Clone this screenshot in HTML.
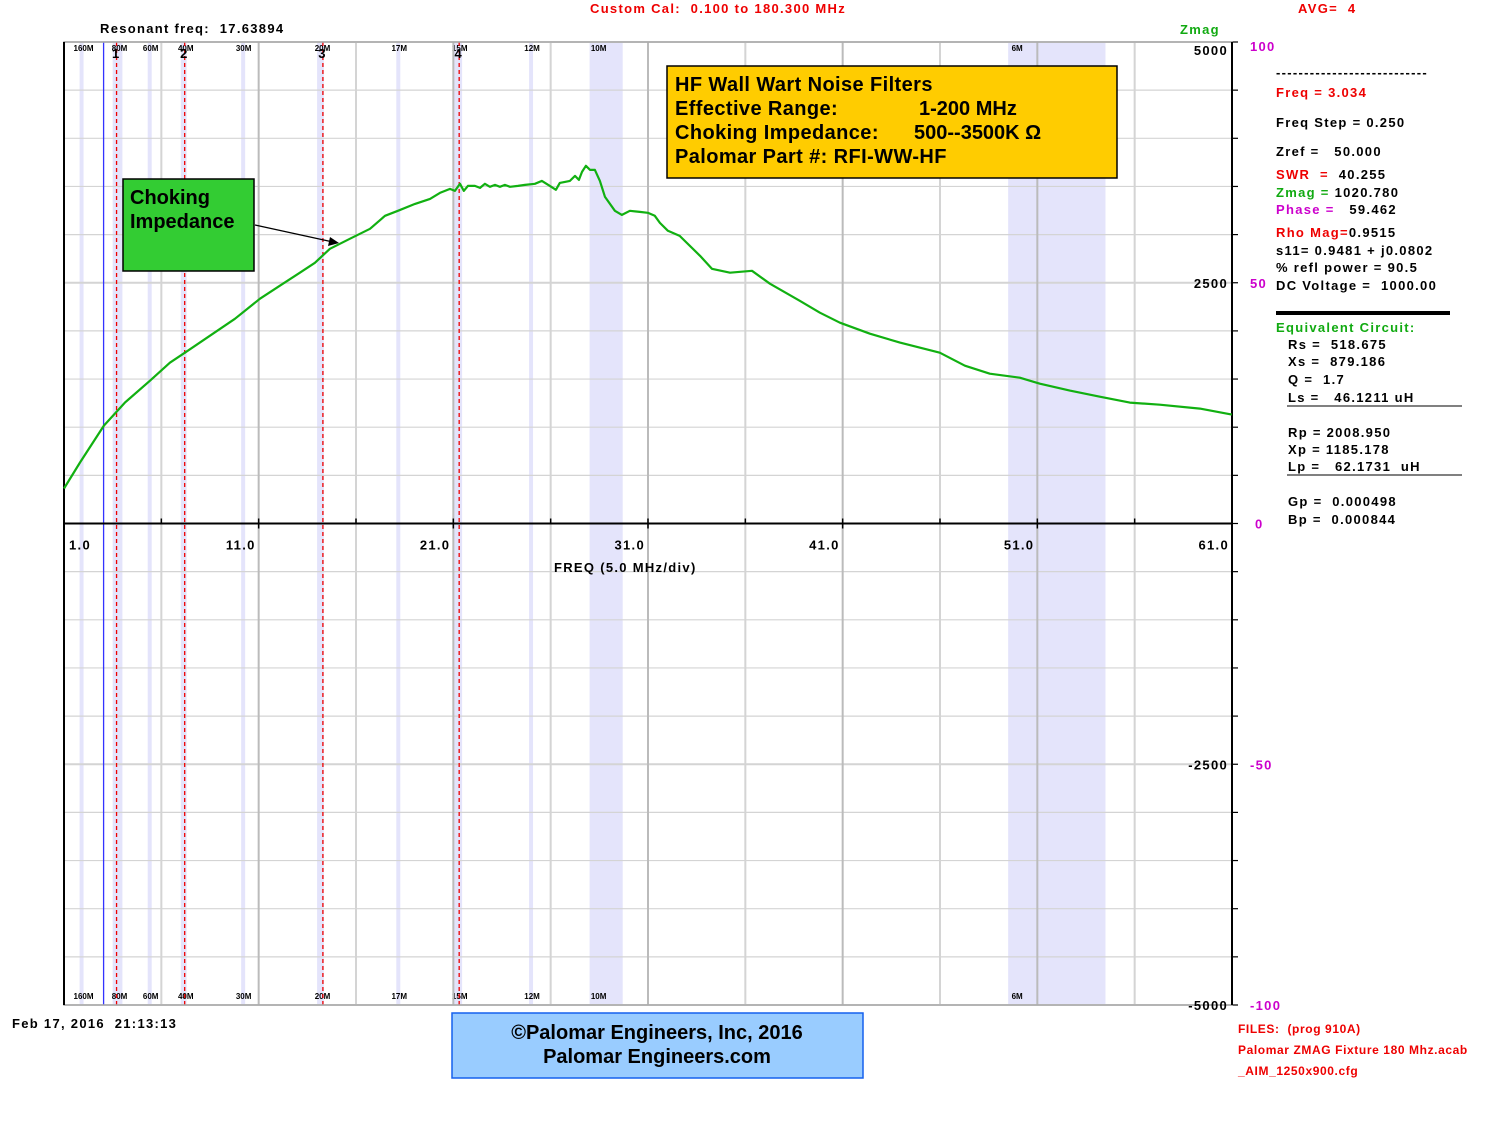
<!DOCTYPE html>
<html><head><meta charset="utf-8"><style>
body{margin:0;background:#fff;}
svg{display:block;font-family:"Liberation Sans",Arial,sans-serif;font-weight:bold;}
text{white-space:pre;}
.sp{letter-spacing:1.3px;}
</style></head><body>
<svg id="chart" width="1485" height="1147" viewBox="0 0 1485 1147" xmlns="http://www.w3.org/2000/svg" xml:space="preserve">
<g id="bands"></g>
<g id="grid"></g>
<g id="markers"></g>
<g id="axes"></g>
<g id="series"></g>

<text class="sp" x="100" y="33" font-size="13">Resonant freq:  17.63894</text>
<text class="sp" x="590" y="13" font-size="13" fill="#e00">Custom Cal:  0.100 to 180.300 MHz</text>
<text class="sp" x="1298" y="13" font-size="13" fill="#e00">AVG=  4</text>
<text class="sp" x="1180" y="34" font-size="13" fill="#1a1">Zmag</text>
<text class="sp" x="554" y="572" font-size="13">FREQ (5.0 MHz/div)</text>

<g>
<rect x="667" y="66" width="450" height="112" fill="#ffcc00" stroke="#000" stroke-width="1.5"/>
<text x="675" y="91" font-size="20" letter-spacing="0.4">HF Wall Wart Noise Filters</text>
<text x="675" y="115" font-size="20" letter-spacing="0.4">Effective Range:</text><text x="919" y="115" font-size="20">1-200 MHz</text>
<text x="675" y="139" font-size="20" letter-spacing="0.4">Choking Impedance:</text><text x="914" y="139" font-size="20">500--3500K Ω</text>
<text x="675" y="163" font-size="20" letter-spacing="0.4">Palomar Part #: RFI-WW-HF</text>
</g>
<g>
<rect x="123" y="179" width="131" height="92" fill="#33cc33" stroke="#000" stroke-width="1.5"/>
<text x="130" y="204" font-size="20">Choking</text>
<text x="130" y="228" font-size="20">Impedance</text>
<line x1="255" y1="225" x2="333" y2="242" stroke="#000" stroke-width="1.3"/>
<polygon points="339,243 328,246 330,237" fill="#000"/>
</g>

<g font-size="13" class="sp">
<text x="1276" y="77">---------------------------</text>
<text x="1276" y="97" fill="#e00">Freq = 3.034</text>
<text x="1276" y="127">Freq Step = 0.250</text>
<text x="1276" y="156">Zref =   50.000</text>
<text x="1276" y="179"><tspan fill="#e00">SWR  =</tspan>  40.255</text>
<text x="1276" y="197"><tspan fill="#1a1">Zmag =</tspan> 1020.780</text>
<text x="1276" y="214"><tspan fill="#c0c">Phase =</tspan>   59.462</text>
<text x="1276" y="237"><tspan fill="#e00">Rho Mag=</tspan>0.9515</text>
<text x="1276" y="255">s11= 0.9481 + j0.0802</text>
<text x="1276" y="272">% refl power = 90.5</text>
<text x="1276" y="290">DC Voltage =  1000.00</text>
<rect x="1276" y="311" width="174" height="4" fill="#000"/>
<text x="1276" y="332" fill="#1a1">Equivalent Circuit:</text>
<text x="1288" y="349">Rs =  518.675</text>
<text x="1288" y="366">Xs =  879.186</text>
<text x="1288" y="384">Q =  1.7</text>
<text x="1288" y="402">Ls =   46.1211 uH</text>
<line x1="1287" y1="406" x2="1462" y2="406" stroke="#000"/>
<text x="1288" y="437">Rp = 2008.950</text>
<text x="1288" y="454">Xp = 1185.178</text>
<text x="1288" y="471">Lp =   62.1731  uH</text>
<line x1="1287" y1="475" x2="1462" y2="475" stroke="#000"/>
<text x="1288" y="506">Gp =  0.000498</text>
<text x="1288" y="524">Bp =  0.000844</text>
</g>
<text class="sp" x="12" y="1028" font-size="13">Feb 17, 2016  21:13:13</text>
<g>
<rect x="452" y="1013" width="411" height="65" fill="#99ccff" stroke="#1560ee" stroke-width="1.5"/>
<text x="657" y="1039" font-size="20" text-anchor="middle">©Palomar Engineers, Inc, 2016</text>
<text x="657" y="1063" font-size="20" text-anchor="middle">Palomar Engineers.com</text>
</g>
<g font-size="12" fill="#e00" letter-spacing="0.6">
<text x="1238" y="1033">FILES:  (prog 910A)</text>
<text x="1238" y="1054">Palomar ZMAG Fixture 180 Mhz.acab</text>
<text x="1238" y="1075">_AIM_1250x900.cfg</text>
</g>
</svg>
<script>
const freqs=[1.0,1.82,3.05,4.13,5.42,6.44,7.21,8.50,9.78,11.07,12.09,13.12,13.89,14.66,15.68,16.72,17.49,18.15,19.03,19.80,20.31,20.83,21.08,21.34,21.54,21.75,22.11,22.37,22.62,22.88,23.14,23.39,23.65,23.91,24.32,24.68,25.19,25.55,25.96,26.27,26.47,26.99,27.25,27.45,27.61,27.81,28.02,28.27,28.53,28.79,29.30,29.66,30.07,30.58,30.99,31.35,31.61,32.02,32.63,33.67,34.28,35.21,36.34,37.26,38.80,39.83,40.86,42.40,43.94,45.99,47.28,48.56,50.10,51.13,52.67,54.21,55.75,57.29,59.35,60.99];
const zmag=[363,633,1017,1255,1483,1670,1774,1950,2126,2334,2469,2604,2707,2853,2956,3060,3195,3247,3319,3371,3433,3475,3454,3527,3454,3506,3506,3485,3527,3496,3516,3496,3516,3496,3506,3516,3527,3558,3506,3465,3537,3558,3610,3568,3651,3714,3672,3672,3558,3392,3247,3205,3247,3236,3226,3195,3122,3039,2987,2780,2645,2604,2624,2490,2313,2189,2085,1971,1878,1774,1639,1556,1514,1452,1380,1317,1255,1234,1193,1131];
const xTicks=[1.0,11.0,21.0,31.0,41.0,51.0,61.0];
const yTicks=[5000,2500,-2500,-5000];
const phaseTicks=[100,50,0,-50,-100];
const bandNames=["160M","80M","60M","40M","30M","20M","17M","15M","12M","10M","6M"];
const bandLo=[1.8,3.5,5.3,7.0,10.1,14.0,18.07,21.0,24.89,28.0,49.5];
const bandHi=[2.0,4.0,5.4,7.3,10.15,14.35,18.17,21.45,24.99,29.7,54.5];
const markerFreqs=[3.7,7.2,14.3,21.3];
const cursorFreq=3.034;

const X0=64,X1=1232,Y0=42,Y1=1005;
const fx=f=>X0+(f-1)/60*(X1-X0);
const fy=z=>Y0+(5000-z)/10000*(Y1-Y0);
const NS="http://www.w3.org/2000/svg";
function mk(parent,tag,attrs){const e=document.createElementNS(NS,tag);for(const k in attrs)e.setAttribute(k,attrs[k]);document.getElementById(parent).appendChild(e);return e;}

bandNames.forEach((n,i)=>{
  const a=fx(bandLo[i]),b=fx(bandHi[i]);
  const r=mk('bands','rect',{x:a,y:Y0,width:Math.max(b-a,4),height:Y1-Y0,fill:'#e4e4fb'});
  
  
  const lx=a+Math.min((b-a)/2,7)+2;
  [48,996].forEach(yy=>{const t=mk('bands','text',{x:lx,y:yy+3,'font-size':8,'text-anchor':'middle'});t.textContent=n;
  
  });
});
for(let z=-5000;z<=5000;z+=500){
  const l=mk('grid','line',{x1:X0,x2:X1,y1:fy(z),y2:fy(z),stroke:'#d4d4d4','stroke-width':(z%2500===0)?2:1.2});
  
  
  const t=mk('grid','line',{x1:X1,x2:X1+6,y1:fy(z),y2:fy(z),stroke:'#000','stroke-width':1.2});
  
  
}
for(let f=6;f<=56;f+=5){
  const l=mk('grid','line',{x1:fx(f),x2:fx(f),y1:Y0,y2:Y1,stroke:(f-1)%10===0?'#bbb':'#d4d4d4','stroke-width':2});
  
  
}
markerFreqs.forEach((f,i)=>{
  const l=mk('markers','line',{x1:fx(f),x2:fx(f),y1:Y0,y2:Y1,stroke:'#e00','stroke-width':1.3,'stroke-dasharray':'4,3'});
  
  
  const t=mk('markers','text',{x:fx(f)-1,y:58,'font-size':13,'text-anchor':'middle'});t.textContent=String(i+1);
  
  
});
const cl=mk('markers','line',{x1:fx(cursorFreq),x2:fx(cursorFreq),y1:Y0,y2:Y1,stroke:'#33f','stroke-width':1.3});



const ax=mk('axes','rect',{x:X0,y:Y0,width:X1-X0,height:Y1-Y0,fill:'none',stroke:'#aaa','stroke-width':1.5});


const ll=mk('axes','line',{x1:X0,x2:X0,y1:Y0,y2:Y1,stroke:'#000','stroke-width':2});


const rl=mk('axes','line',{x1:X1,x2:X1,y1:Y0,y2:Y1,stroke:'#000','stroke-width':2});


const zl=mk('axes','line',{x1:X0,x2:X1,y1:fy(0),y2:fy(0),stroke:'#000','stroke-width':2});


for(let f=1;f<=61;f+=5){
  const t=mk('axes','line',{x1:fx(f),x2:fx(f),y1:fy(0)-5,y2:fy(0)+((f-1)%10===0?5:0),stroke:'#000','stroke-width':1.5});
  
  
}
xTicks.forEach((v,i)=>{
  const t=i===0?mk('axes','text',{x:fx(v)+5,y:fy(0)+26,'font-size':13,'class':'sp'}):mk('axes','text',{x:fx(v)-3,y:fy(0)+26,'font-size':13,'text-anchor':'end','class':'sp'});
  t.textContent=v.toFixed(1);
  
  
});
yTicks.forEach(v=>{
  const t=mk('axes','text',{x:X1-4,y:fy(v)+(v===5000?13:5),'font-size':13,'text-anchor':'end','class':'sp'});t.textContent=String(v);
  
  
});
phaseTicks.forEach(v=>{
  const yy=fy(v*50);
  const t=mk('axes','text',{x:v===0?1255:1250,y:yy+(v===100?9:5),'font-size':13,fill:'#c0c','class':'sp'});t.textContent=String(v);
  
  
});
const pts=freqs.map((f,i)=>fx(f).toFixed(1)+','+fy(zmag[i]).toFixed(1)).join(' ');
const pl=mk('series','polyline',{points:pts,fill:'none',stroke:'#11b011','stroke-width':2.2,'stroke-linejoin':'round'});


</script>
</body></html>
